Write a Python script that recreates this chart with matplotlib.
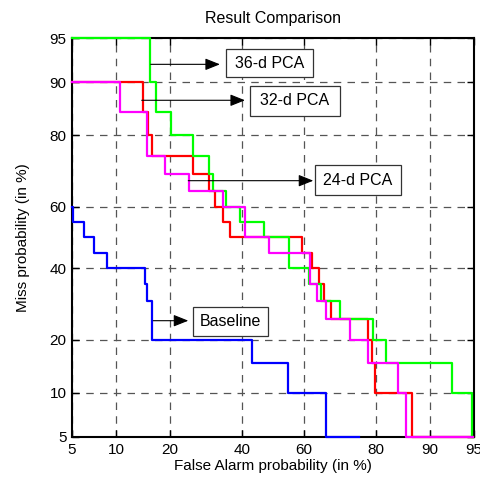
#!/usr/bin/env python
# coding=utf-8

from statistics import NormalDist
import matplotlib
matplotlib.use("Agg")
import matplotlib.pyplot as plt
from matplotlib.patches import Rectangle

plt.rcParams['font.family'] = ['Liberation Sans', 'DejaVu Sans']

# DET curves: false alarm (%) where each step happens, and miss level (%) after it
tick_values = [5, 10, 20, 40, 60, 80, 90, 95]

base_fa   = [5, 5.1, 6.1, 7.1, 8.7, 14.8, 15.2, 16.2, 43.3, 55.0, 66.7, 75.9]
base_miss = [60, 55, 50, 45, 40, 35, 30, 20, 15, 10, 5, 5]

pca24_fa   = [5, 14.3, 15.4, 16.2, 25.7, 30.1, 31.75, 34.0, 36.2, 59.3, 62.4,
              64.8, 66.2, 68.2, 78.2, 79.0, 79.8, 87.3, 94.9]
pca24_miss = [90, 85, 80, 75, 70, 65, 60, 55, 50, 45, 40,
              35, 30, 25, 20, 15, 10, 5, 5]

pca36_fa   = [5, 15.65, 16.85, 20.2, 25.7, 30.1, 31.1, 34.9, 39.35, 47.1, 55.2,
              61.6, 65.2, 70.8, 79.3, 82.2, 92.8, 94.85, 94.85]
pca36_miss = [95, 90, 85, 80, 75, 70, 65, 60, 55, 50, 40,
              35, 30, 25, 20, 15, 10, 5, 5]

pca32_fa   = [5, 10.5, 15.1, 18.9, 24.7, 34.2, 40.9, 48.8, 61.9, 64.0, 66.7,
              73.7, 78.2, 84.7, 86.1, 94.9]
pca32_miss = [90, 85, 75, 70, 65, 60, 50, 45, 35, 30, 25,
              20, 15, 10, 5, 5]


def probit(values):
    return [NormalDist().inv_cdf(v / 100.0) for v in values]


fig = plt.figure(figsize=(4.81, 4.78), dpi=100)
ax = fig.add_axes([72 / 481, 41 / 478, 402 / 481, 399 / 478])

curves = [(base_fa, base_miss, (0, 0, 1)),
          (pca24_fa, pca24_miss, (1, 0, 0)),
          (pca36_fa, pca36_miss, (0, 1, 0)),
          (pca32_fa, pca32_miss, (1, 0, 1))]
for i, (fa, miss, col) in enumerate(curves):
    ax.step(probit(fa), probit(miss), where='post', color=col, lw=1.6,
            clip_on=False, zorder=3 + i)

lim = probit([5, 95])
ax.set_xlim(lim)
ax.set_ylim(lim)
ax.set_xticks(probit(tick_values))
ax.set_yticks(probit(tick_values))
ax.set_xticklabels([str(t) for t in tick_values])
ax.set_yticklabels([str(t) for t in tick_values])
ax.tick_params(direction='in', top=True, right=True, length=5, width=1,
               labelsize=11, pad=4)
ax.grid(True, color='#555555', linestyle=(0, (6, 5)), lw=0.9)
for s in ax.spines.values():
    s.set_linewidth(1.5)

ax.set_title("Result Comparison", fontsize=11.5, pad=11)
ax.set_xlabel("False Alarm probability (in %)", fontsize=11, labelpad=2)
ax.set_ylabel("Miss probability (in %)", fontsize=11, labelpad=14)

# annotation boxes: (label, box left, bottom, width, height, arrow tail x, head x, arrow y)
notes = [("36-d PCA", 0.3823, 0.9015, 0.2179, 0.0702, 0.1958, 0.368, 0.934),
         ("32-d PCA", 0.4428, 0.8045, 0.2239, 0.0760, 0.1734, 0.4303, 0.8439),
         ("24-d PCA", 0.6052, 0.6065, 0.2125, 0.0752, 0.2893, 0.6002, 0.6424),
         ("Baseline", 0.3017, 0.2531, 0.1851, 0.0720, 0.2022, 0.2893, 0.2915)]
for label, bx, by, bw, bh, tx, hx, ay in notes:
    ax.add_patch(Rectangle((bx, by), bw, bh, transform=ax.transAxes,
                           facecolor='white', edgecolor='#333333', lw=0.9,
                           zorder=10))
    ax.text(bx + bw / 2, by + bh / 2, label, transform=ax.transAxes,
            ha='center', va='center', fontsize=11.5, zorder=11)
    ax.annotate("", xy=(hx, ay), xytext=(tx, ay),
                xycoords='axes fraction', textcoords='axes fraction',
                arrowprops=dict(arrowstyle='-|>,head_length=0.5,head_width=0.2',
                                mutation_scale=18, color='black', lw=0.8,
                                shrinkA=0, shrinkB=0),
                zorder=12)

fig.savefig("out.png", dpi=100)
